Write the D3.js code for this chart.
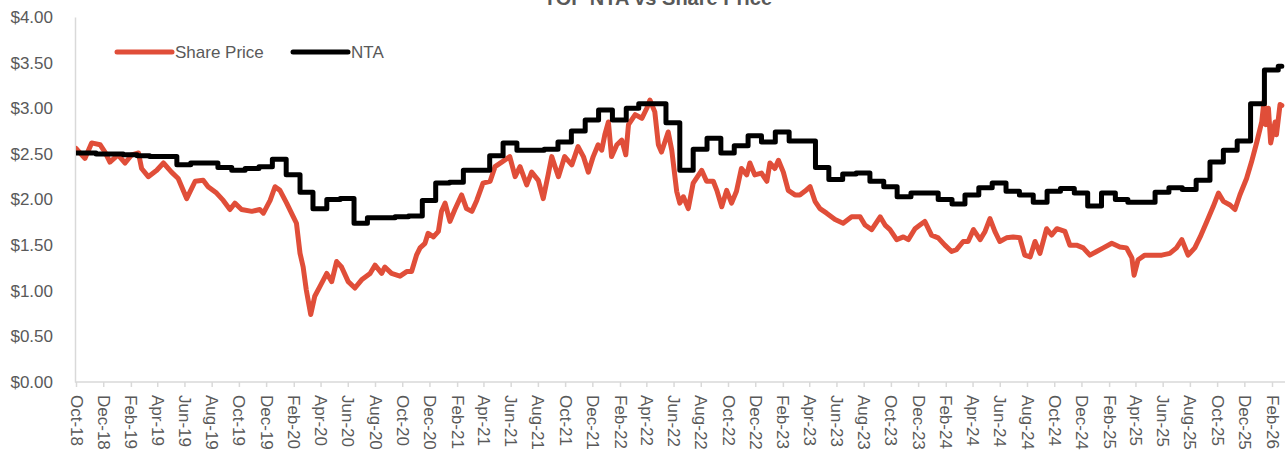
<!DOCTYPE html>
<html>
<head>
<meta charset="utf-8">
<title>TOP NTA vs Share Price</title>
<script src="https://cdnjs.cloudflare.com/ajax/libs/d3/7.8.5/d3.min.js"></script>
<style>
    html, body { margin: 0; padding: 0; background: #fff; overflow: hidden; }
    svg { display: block; font-family: "Liberation Sans", Arial, sans-serif; }
</style>
</head>
<body>
<svg id="chart" width="1285" height="451"></svg>
<script>
'use strict';

var TITLE = 'TOP NTA vs Share Price';
var SERIES_NAMES = ['Share Price', 'NTA'];

var X_TICK_LABELS = [
    'Oct-18', 'Dec-18', 'Feb-19', 'Apr-19', 'Jun-19', 'Aug-19', 'Oct-19', 'Dec-19',
    'Feb-20', 'Apr-20', 'Jun-20', 'Aug-20', 'Oct-20', 'Dec-20', 'Feb-21', 'Apr-21',
    'Jun-21', 'Aug-21', 'Oct-21', 'Dec-21', 'Feb-22', 'Apr-22', 'Jun-22', 'Aug-22',
    'Oct-22', 'Dec-22', 'Feb-23', 'Apr-23', 'Jun-23', 'Aug-23', 'Oct-23', 'Dec-23',
    'Feb-24', 'Apr-24', 'Jun-24', 'Aug-24', 'Oct-24', 'Dec-24', 'Feb-25', 'Apr-25',
    'Jun-25', 'Aug-25', 'Oct-25', 'Dec-25', 'Feb-26'
];
var Y_TICKS = [0, 0.5, 1, 1.5, 2, 2.5, 3, 3.5, 4];

// share price
var priceDates = [
    '2018-10-01', '2018-10-21', '2018-11-05', '2018-11-24', '2018-12-05', '2018-12-16',
    '2019-01-03', '2019-01-19', '2019-02-03', '2019-02-18', '2019-02-25', '2019-03-12',
    '2019-03-31', '2019-04-15', '2019-05-03', '2019-05-18', '2019-06-06', '2019-06-25',
    '2019-07-13', '2019-07-24', '2019-08-12', '2019-08-27', '2019-09-11', '2019-09-22',
    '2019-10-07', '2019-10-30', '2019-11-17', '2019-11-25', '2019-12-10', '2019-12-21',
    '2020-01-01', '2020-01-16', '2020-01-31', '2020-02-07', '2020-02-15', '2020-02-22',
    '2020-02-29', '2020-03-10', '2020-03-19', '2020-03-31', '2020-04-15', '2020-04-26',
    '2020-05-07', '2020-05-18', '2020-06-02', '2020-06-17', '2020-07-02', '2020-07-21',
    '2020-08-01', '2020-08-16', '2020-08-23', '2020-09-07', '2020-09-26', '2020-10-11',
    '2020-10-22', '2020-11-02', '2020-11-10', '2020-11-21', '2020-11-28', '2020-12-10',
    '2020-12-21', '2020-12-28', '2021-01-05', '2021-01-16', '2021-01-27', '2021-02-11',
    '2021-02-22', '2021-03-06', '2021-03-17', '2021-03-31', '2021-04-16', '2021-04-27',
    '2021-05-12', '2021-05-30', '2021-06-11', '2021-06-22', '2021-07-07', '2021-07-18',
    '2021-08-02', '2021-08-13', '2021-08-24', '2021-09-01', '2021-09-16', '2021-09-30',
    '2021-10-16', '2021-10-30', '2021-11-11', '2021-11-22', '2021-12-03', '2021-12-14',
    '2021-12-22', '2021-12-29', '2022-01-06', '2022-01-13', '2022-01-25', '2022-02-05',
    '2022-02-14', '2022-02-20', '2022-03-07', '2022-03-22', '2022-04-02', '2022-04-09',
    '2022-04-20', '2022-04-28', '2022-05-05', '2022-05-20', '2022-05-28', '2022-06-08',
    '2022-06-15', '2022-06-23', '2022-07-04', '2022-07-15', '2022-08-03', '2022-08-14',
    '2022-08-29', '2022-09-06', '2022-09-17', '2022-09-28', '2022-10-09', '2022-10-20',
    '2022-10-31', '2022-11-12', '2022-11-19', '2022-11-30', '2022-12-15', '2022-12-27',
    '2023-01-03', '2023-01-14', '2023-01-22', '2023-02-02', '2023-02-13', '2023-02-28',
    '2023-03-11', '2023-03-22', '2023-04-03', '2023-04-14', '2023-04-25', '2023-05-10',
    '2023-05-29', '2023-06-16', '2023-07-05', '2023-07-24', '2023-08-04', '2023-08-19',
    '2023-09-07', '2023-09-18', '2023-09-29', '2023-10-14', '2023-10-29', '2023-11-09',
    '2023-11-24', '2023-12-05', '2023-12-16', '2023-12-31', '2024-01-15', '2024-01-30',
    '2024-02-14', '2024-02-25', '2024-03-11', '2024-03-22', '2024-04-03', '2024-04-18',
    '2024-04-29', '2024-05-10', '2024-05-21', '2024-06-01', '2024-06-16', '2024-07-01',
    '2024-07-16', '2024-07-27', '2024-08-08', '2024-08-19', '2024-08-30', '2024-09-14',
    '2024-09-25', '2024-10-07', '2024-10-25', '2024-11-05', '2024-11-20', '2024-12-05',
    '2024-12-20', '2025-01-04', '2025-01-19', '2025-02-07', '2025-02-25', '2025-03-12',
    '2025-03-24', '2025-03-29', '2025-04-07', '2025-04-22', '2025-05-11', '2025-05-30',
    '2025-06-17', '2025-07-02', '2025-07-14', '2025-07-28', '2025-08-12', '2025-08-24',
    '2025-09-08', '2025-09-22', '2025-10-04', '2025-10-15', '2025-10-30', '2025-11-10',
    '2025-11-21', '2025-12-06', '2025-12-17', '2025-12-29', '2026-01-09', '2026-01-14',
    '2026-01-18', '2026-01-24', '2026-01-29', '2026-02-08', '2026-02-11', '2026-02-19',
    '2026-02-23'
];
var priceValues = [
    2.56, 2.45, 2.62, 2.60, 2.52, 2.41,
    2.49, 2.40, 2.49, 2.51, 2.34, 2.25,
    2.32, 2.40, 2.30, 2.23, 2.01, 2.20,
    2.21, 2.14, 2.07, 1.99, 1.89, 1.96,
    1.89, 1.87, 1.89, 1.85, 1.99, 2.14,
    2.10, 1.96, 1.81, 1.74, 1.41, 1.26,
    1.01, 0.74, 0.94, 1.05, 1.19, 1.10,
    1.32, 1.26, 1.10, 1.03, 1.12, 1.19,
    1.28, 1.19, 1.26, 1.19, 1.16, 1.21,
    1.21, 1.39, 1.47, 1.52, 1.63, 1.59,
    1.65, 1.87, 1.96, 1.76, 1.89, 2.05,
    1.90, 1.87, 1.99, 2.18, 2.20, 2.36,
    2.41, 2.47, 2.25, 2.36, 2.16, 2.30,
    2.21, 2.01, 2.27, 2.47, 2.25, 2.47,
    2.38, 2.58, 2.47, 2.30, 2.47, 2.60,
    2.54, 2.71, 2.85, 2.47, 2.60, 2.65,
    2.49, 2.82, 2.93, 2.89, 3.00, 3.09,
    2.96, 2.60, 2.52, 2.74, 2.54, 2.09,
    1.96, 2.03, 1.90, 2.18, 2.32, 2.20,
    2.20, 2.10, 1.92, 2.10, 1.96, 2.09,
    2.34, 2.27, 2.40, 2.27, 2.29, 2.20,
    2.40, 2.34, 2.43, 2.30, 2.10, 2.05,
    2.05, 2.09, 2.14, 1.98, 1.90, 1.85,
    1.78, 1.74, 1.81, 1.81, 1.72, 1.67,
    1.81, 1.72, 1.67, 1.56, 1.59, 1.56,
    1.68, 1.72, 1.76, 1.61, 1.58, 1.50,
    1.43, 1.45, 1.54, 1.54, 1.67, 1.56,
    1.65, 1.79, 1.65, 1.54, 1.58, 1.59,
    1.58, 1.39, 1.37, 1.54, 1.41, 1.68,
    1.61, 1.68, 1.65, 1.50, 1.50, 1.47,
    1.39, 1.43, 1.47, 1.52, 1.48, 1.47,
    1.36, 1.17, 1.34, 1.39, 1.39, 1.39,
    1.41, 1.47, 1.56, 1.39, 1.47, 1.59,
    1.76, 1.92, 2.07, 1.98, 1.94, 1.89,
    2.05, 2.23, 2.41, 2.63, 2.85, 3.08,
    2.82, 3.00, 2.62, 2.85, 2.71, 3.04,
    3.03
];

// NTA, one value per month, published mid-month (first value is Sep-18)
var ntaFirstMonth = '2018-09-15';
var ntaLastDate = '2026-02-23';
var ntaValues = [
    2.51, 2.51, 2.50, 2.50, 2.49, 2.48, 2.47, 2.47, 2.38, 2.40,
    2.40, 2.35, 2.32, 2.34, 2.36, 2.44, 2.27, 2.08, 1.90, 2.00,
    2.01, 1.74, 1.80, 1.80, 1.81, 1.82, 1.99, 2.18, 2.19, 2.32,
    2.32, 2.48, 2.62, 2.54, 2.54, 2.55, 2.63, 2.75, 2.87, 2.98,
    2.87, 3.00, 3.05, 3.05, 2.84, 2.32, 2.55, 2.67, 2.51, 2.59,
    2.70, 2.63, 2.74, 2.64, 2.64, 2.35, 2.22, 2.28, 2.29, 2.20,
    2.14, 2.03, 2.07, 2.07, 2.00, 1.95, 2.05, 2.13, 2.18, 2.09,
    2.05, 1.97, 2.09, 2.12, 2.07, 1.93, 2.07, 2.00, 1.97, 1.97,
    2.08, 2.13, 2.11, 2.21, 2.41, 2.54, 2.64, 3.05, 3.42, 3.46
];

var COLORS = { price: '#E04E39', nta: '#000000', text: '#595959', axis: '#D9D9D9' };

var parseDate = d3.utcParse('%Y-%m-%d');
var parseTick = d3.utcParse('%b-%y');

var svg = d3.select('#chart');
var x = d3.scaleUtc()
    .domain([parseDate('2018-10-01'), parseDate('2026-02-01')])
    .range([76, 1272]);
var y = d3.scaleLinear().domain([0, 4]).range([382, 17]);

function buildPrice() {
    return priceDates.map(function (d, i) {
        return { date: parseDate(d), value: priceValues[i] };
    });
}

function buildNta() {
    var start = parseDate(ntaFirstMonth);
    var pts = ntaValues.map(function (v, i) {
        return { date: d3.utcMonth.offset(start, i), value: v };
    });
    pts.push({ date: parseDate(ntaLastDate), value: ntaValues[ntaValues.length - 1] });
    return pts;
}

function drawTitle() {
    svg.append('text')
        .attr('x', 658)
        .attr('y', 5)
        .attr('text-anchor', 'middle')
        .attr('font-size', 20)
        .attr('font-weight', 'bold')
        .attr('fill', COLORS.text)
        .text(TITLE);
}

function drawAxes() {
    var xAxis = d3.axisBottom(x)
        .tickValues(X_TICK_LABELS.map(parseTick))
        .tickFormat(d3.utcFormat('%b-%y'))
        .tickSizeInner(5)
        .tickSizeOuter(0);

    var gx = svg.append('g')
        .attr('transform', 'translate(0,382)')
        .call(xAxis);
    gx.select('.domain').attr('stroke', COLORS.axis).attr('stroke-width', 1.5)
        .attr('d', 'M75,0H1285');
    gx.selectAll('.tick line').attr('stroke', COLORS.axis).attr('stroke-width', 1.5);
    gx.selectAll('.tick text')
        .attr('fill', COLORS.text)
        .attr('font-size', 17)
        .attr('text-anchor', 'start')
        .attr('x', 0)
        .attr('y', 0)
        .attr('dy', '0.35em')
        .attr('transform', 'translate(0,13) rotate(90)');

    var yAxis = d3.axisLeft(y)
        .tickValues(Y_TICKS)
        .tickFormat(function (d) { return '$' + d.toFixed(2); })
        .tickSize(0)
        .tickPadding(22);

    var gy = svg.append('g')
        .attr('transform', 'translate(75,0)')
        .call(yAxis);
    gy.select('.domain').attr('stroke', COLORS.axis).attr('stroke-width', 1.5);
    gy.selectAll('.tick text')
        .attr('fill', COLORS.text)
        .attr('font-size', 17);
}

function drawLines(price, nta) {
    svg.append('clipPath')
        .attr('id', 'plot-clip')
        .append('rect')
        .attr('x', 76).attr('y', 0)
        .attr('width', 1220).attr('height', 382);

    var g = svg.append('g').attr('clip-path', 'url(#plot-clip)');

    var priceLine = d3.line()
        .x(function (d) { return x(d.date); })
        .y(function (d) { return y(d.value); });

    var ntaLine = d3.line()
        .curve(d3.curveStepAfter)
        .x(function (d) { return x(d.date); })
        .y(function (d) { return y(d.value); });

    g.append('path')
        .datum(price)
        .attr('fill', 'none')
        .attr('stroke', COLORS.price)
        .attr('stroke-width', 5)
        .attr('stroke-linejoin', 'round')
        .attr('stroke-linecap', 'round')
        .attr('d', priceLine);

    g.append('path')
        .datum(nta)
        .attr('fill', 'none')
        .attr('stroke', COLORS.nta)
        .attr('stroke-width', 5)
        .attr('stroke-linejoin', 'round')
        .attr('stroke-linecap', 'round')
        .attr('d', ntaLine);
}

function drawLegend() {
    var items = [
        { name: SERIES_NAMES[0], color: COLORS.price, x: 117 },
        { name: SERIES_NAMES[1], color: COLORS.nta, x: 293 }
    ];
    var lg = svg.append('g').attr('class', 'legend');
    items.forEach(function (it) {
        lg.append('line')
            .attr('x1', it.x).attr('x2', it.x + 55)
            .attr('y1', 52).attr('y2', 52)
            .attr('stroke', it.color)
            .attr('stroke-width', 5)
            .attr('stroke-linecap', 'round');
        lg.append('text')
            .attr('x', it.x + 58)
            .attr('y', 52)
            .attr('dy', '0.35em')
            .attr('font-size', 17)
            .attr('fill', COLORS.text)
            .text(it.name);
    });
}

drawTitle();
drawAxes();
drawLines(buildPrice(), buildNta());
drawLegend();
</script>
</body>
</html>
